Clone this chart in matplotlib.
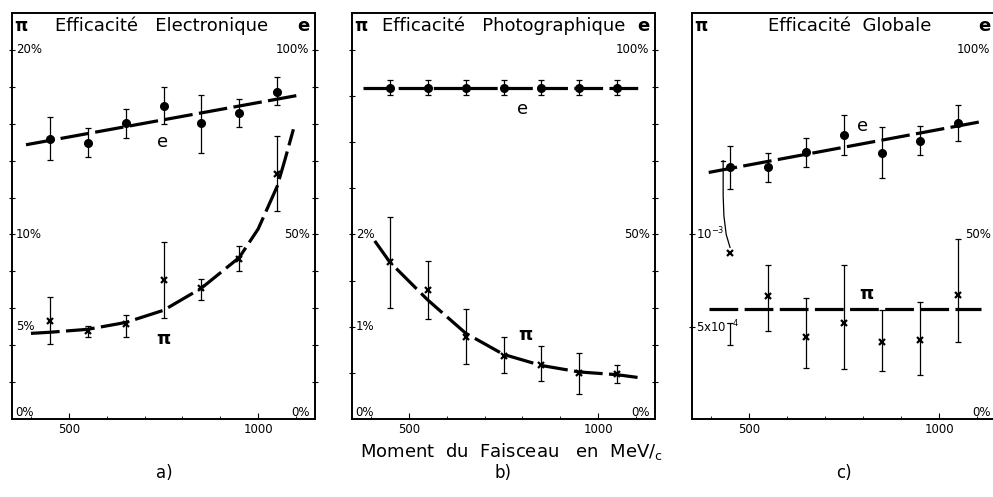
import numpy as np
import matplotlib
matplotlib.use("Agg")
import matplotlib.pyplot as plt
from matplotlib.transforms import blended_transform_factory

# beam momentum (MeV/c)
p = [450, 550, 650, 750, 850, 950, 1050]

# a) Efficacite Electronique  (pi: left axis %, e: right axis %)
a_e = [75.9, 74.8, 80.1, 84.8, 80.1, 82.9, 88.7]
a_e_lo = [70.1, 71.0, 76.1, 79.9, 72.1, 79.0, 85.0]
a_e_hi = [81.9, 78.8, 83.9, 89.9, 87.8, 86.8, 92.7]
a_pi = [5.30, 4.77, 5.13, 7.54, 7.09, 8.66, 13.27]
a_pi_lo = [4.05, 4.46, 4.46, 5.45, 6.43, 8.04, 11.25]
a_pi_hi = [6.61, 5.05, 5.63, 9.59, 7.59, 9.38, 15.36]
a_e_fit_x = [387, 1111]
a_e_fit = [74.3, 87.8]
a_pi_fit_x = [400, 450, 550, 650, 750, 850, 950, 1000, 1050, 1070, 1093]
a_pi_fit = [4.64, 4.70, 4.86, 5.23, 5.89, 7.09, 8.75, 10.3, 12.6, 14.0, 15.7]

# b) Efficacite Photographique
b_e = [89.7, 89.7, 89.7, 89.7, 89.7, 89.7, 89.7]
b_e_lo = [87.7, 87.7, 87.7, 87.7, 87.7, 87.7, 87.7]
b_e_hi = [91.8, 91.8, 91.8, 91.8, 91.8, 91.8, 91.8]
b_pi = [1.70, 1.40, 0.89, 0.68, 0.59, 0.50, 0.49]
b_pi_lo = [1.20, 1.08, 0.60, 0.50, 0.41, 0.27, 0.39]
b_pi_hi = [2.19, 1.71, 1.19, 0.89, 0.79, 0.71, 0.59]
b_e_fit_x = [380, 1105]
b_e_fit = [89.7, 89.7]
b_pi_fit_x = [410, 450, 550, 650, 750, 850, 950, 1050, 1105]
b_pi_fit = [1.93, 1.70, 1.29, 0.93, 0.70, 0.58, 0.51, 0.48, 0.45]

# c) Efficacite Globale  (pi in units of 1e-3)
c_e = [68.2, 68.2, 72.3, 77.0, 72.1, 75.2, 80.3]
c_e_lo = [62.3, 64.3, 68.2, 71.4, 65.3, 71.5, 75.2]
c_e_hi = [74.1, 72.1, 76.1, 82.3, 79.1, 79.3, 85.2]
c_pi = [0.90, 0.667, 0.445, 0.522, 0.418, 0.427, 0.673]
c_pi_lo = [0.40, 0.476, 0.276, 0.273, 0.26, 0.236, 0.418]
c_pi_hi = [1.40, 0.836, 0.658, 0.836, 0.591, 0.636, 0.973]
c_e_fit_x = [394, 1118]
c_e_fit = [66.8, 80.7]
c_pi_fit_x = [395, 1110]
c_pi_fit = [0.595, 0.595]
# first pi point of c): its upper error bar is drawn shifted left with a lead line
c_pi1_lead_x = [432, 432, 434, 440, 450]
c_pi1_lead_y = [1.40, 1.21, 1.10, 1.00, 0.93]
c_pi1_low = [0.518, 0.40]

W, H = 993, 497
fig = plt.figure(figsize=(W / 100, H / 100), dpi=100)
plt.rcParams['font.family'] = 'DejaVu Sans'

DASH = (0, (9, 2))


def make_axes(x0, x1):
    ax = fig.add_axes([x0 / W, 1 - 419 / H, (x1 - x0) / W, 406 / H])
    ax2 = ax.twinx()
    for a in (ax, ax2):
        for s in a.spines.values():
            s.set_linewidth(1.2)
    ax.set_xlim(350, 1150)
    ax.set_xticks([500, 1000])
    ax.set_xticklabels(['500', '1000'])
    ax.set_xticks(range(400, 1101, 100), minor=True)
    ax.tick_params(axis='x', which='major', direction='in', length=4, labelsize=8.5, pad=3)
    ax.tick_params(axis='x', which='minor', direction='in', length=2)
    ax.tick_params(axis='y', which='both', direction='inout', length=4, labelleft=False)
    ax2.set_ylim(0, 110)
    ax2.set_yticks(range(10, 101, 10))
    ax2.tick_params(axis='y', direction='inout', length=4, labelright=False)
    return ax, ax2


def errbars(ax, x, y, lo, hi):
    ax.errorbar(x, y, yerr=[np.subtract(y, lo), np.subtract(hi, y)], fmt='none',
                ecolor='k', elinewidth=0.9, capsize=2.5, capthick=0.9, zorder=2)


def pi_marks(ax, x, y):
    ax.plot(x, y, ls='none', marker='x', ms=4, mew=1.6, color='k', zorder=4)


def e_marks(ax, x, y):
    ax.plot(x, y, ls='none', marker='o', ms=5.5, color='k', zorder=4)


def fit(ax, x, y):
    ax.plot(x, y, color='k', lw=2.3, ls=DASH, dash_capstyle='butt', zorder=3)


def header(ax, title, tx):
    ax.text(0.03, 0.968, 'π', transform=ax.transAxes, ha='center', va='center',
            fontsize=12, fontweight='bold')
    ax.text(tx, 0.968, title, transform=ax.transAxes, ha='center', va='center',
            fontsize=13)
    ax.text(0.962, 0.968, 'e', transform=ax.transAxes, ha='center', va='center',
            fontsize=13, fontweight='bold')


def left_labels(ax, vals, texts):
    tr = blended_transform_factory(ax.transAxes, ax.transData)
    for v, t in zip(vals, texts):
        ax.text(0.012, v, t, transform=tr, ha='left', va='bottom' if v == 0 else 'center',
                fontsize=8.5)


def right_labels(ax, vals, texts):
    tr = blended_transform_factory(ax.transAxes, ax.transData)
    for v, t in zip(vals, texts):
        ax.text(0.982, v, t, transform=tr, ha='right', va='bottom' if v == 0 else 'center',
                fontsize=8.5)


# ---- a)
ax, ax2 = make_axes(12, 315)
ax.set_ylim(0, 22)
ax.set_yticks(range(2, 21, 2))
fit(ax, a_pi_fit_x, a_pi_fit)
errbars(ax, p, a_pi, a_pi_lo, a_pi_hi)
pi_marks(ax, p, a_pi)
fit(ax2, a_e_fit_x, a_e_fit)
errbars(ax2, p, a_e, a_e_lo, a_e_hi)
e_marks(ax2, p, a_e)
header(ax, 'Efficacité   Electronique', 0.495)
left_labels(ax, [20, 10, 5, 0], ['20%', '10%', '5%', '0%'])
right_labels(ax2, [100, 50, 0], ['100%', '50%', '0%'])
ax2.text(748, 75.0, 'e', ha='center', va='center', fontsize=13)
ax.text(750, 4.35, 'π', ha='center', va='center', fontsize=13, fontweight='bold')

# ---- b)
ax, ax2 = make_axes(352, 655)
ax.set_ylim(0, 4.4)
ax.set_yticks(np.arange(0.5, 4.01, 0.5))
fit(ax, b_pi_fit_x, b_pi_fit)
errbars(ax, p, b_pi, b_pi_lo, b_pi_hi)
pi_marks(ax, p, b_pi)
fit(ax2, b_e_fit_x, b_e_fit)
errbars(ax2, p, b_e, b_e_lo, b_e_hi)
e_marks(ax2, p, b_e)
header(ax, 'Efficacité   Photographique', 0.50)
left_labels(ax, [2, 1, 0], ['2%', '1%', '0%'])
right_labels(ax2, [100, 50, 0], ['100%', '50%', '0%'])
ax2.text(800, 84.0, 'e', ha='center', va='center', fontsize=13)
ax.text(808, 0.91, 'π', ha='center', va='center', fontsize=13, fontweight='bold')

# ---- c)
ax, ax2 = make_axes(692, 996)
ax.set_ylim(0, 2.2)
ax.set_yticks([0.5, 1.0])
fit(ax, c_pi_fit_x, c_pi_fit)
errbars(ax, p[1:], c_pi[1:], c_pi_lo[1:], c_pi_hi[1:])
ax.plot(c_pi1_lead_x, c_pi1_lead_y, color='k', lw=0.9, zorder=2)
ax.plot([c_pi1_lead_x[0] - 5, c_pi1_lead_x[0] + 5], [c_pi_hi[0], c_pi_hi[0]], color='k', lw=0.9)
ax.errorbar([p[0]], [sum(c_pi1_low) / 2], yerr=[[(c_pi1_low[0] - c_pi1_low[1]) / 2]],
            fmt='none', ecolor='k', elinewidth=0.9, capsize=2.5, capthick=0.9)
pi_marks(ax, p, c_pi)
fit(ax2, c_e_fit_x, c_e_fit)
errbars(ax2, p, c_e, c_e_lo, c_e_hi)
e_marks(ax2, p, c_e)
header(ax, 'Efficacité  Globale', 0.52)
left_labels(ax, [1.0, 0.5], ['$10^{-3}$', '$5\\mathrm{x}10^{-4}$'])
right_labels(ax2, [100, 50, 0], ['100%', '50%', '0%'])
ax2.text(800, 79.5, 'e', ha='center', va='center', fontsize=13)
ax.text(810, 0.68, 'π', ha='center', va='center', fontsize=13, fontweight='bold')

# common labels
fig.text(511 / W, 1 - 452 / H, 'Moment  du  Faisceau   en  MeV/$_{\\mathregular{c}}$',
         ha='center', va='center', fontsize=13)
for x, t in [(164, 'a)'), (503, 'b)'), (844, 'c)')]:
    fig.text(x / W, 1 - 473 / H, t, ha='center', va='center', fontsize=12)

fig.savefig('out.png', dpi=100)
